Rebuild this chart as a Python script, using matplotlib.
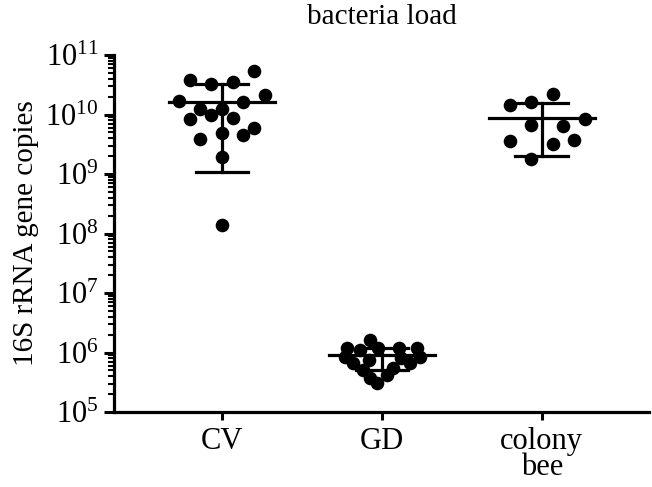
import matplotlib
matplotlib.use("Agg")
import matplotlib.pyplot as plt
import matplotlib.ticker as mticker

plt.rcParams["font.family"] = ["Liberation Serif", "DejaVu Serif"]
plt.rcParams["mathtext.fontset"] = "stix"

GROUPS = ["CV", "GD", "colony\nbee"]
Y_DECADES = [5, 6, 7, 8, 9, 10, 11]

cv_values = [5.4e10, 3.8e10, 3.2e10, 3.5e10, 2.1e10, 1.66e10, 1.6e10, 1.23e10, 1.26e10,
             9.8e9, 8.3e9, 8.7e9, 6.0e9, 4.6e9, 4.8e9, 3.9e9, 1.95e9, 1.38e8]
cv_jitter = [0.20, -0.20, -0.07, 0.07, 0.27, -0.27, 0.13, -0.14, 0.0,
             -0.07, -0.20, 0.07, 0.20, 0.13, 0.0, -0.14, 0.0, 0.0]

gd_values = [1.62e6, 1.2e6, 1.1e6, 1.17e6, 1.2e6, 1.17e6, 8.5e5, 8.5e5, 6.6e5,
             6.6e5, 5.1e5, 5.5e5, 3.7e5, 4.2e5, 3.1e5, 8.0e5, 7.5e5]
gd_jitter = [-0.075, -0.22, -0.14, -0.025, 0.11, 0.22, -0.23, 0.24, -0.18,
             0.175, -0.12, 0.07, -0.075, 0.03, -0.03, 0.12, -0.08]

bee_values = [2.2e10, 1.45e10, 1.6e10, 8.3e9, 6.6e9, 6.3e9, 3.6e9, 3.7e9, 3.2e9, 1.8e9]
bee_jitter = [0.07, -0.20, -0.07, 0.27, -0.07, 0.13, -0.20, 0.20, 0.07, -0.07]

# mean and error bar ends
means = [1.6e10, 9.0e5, 8.7e9]
err_low = [1.07e9, 5.1e5, 2.0e9]
err_high = [3.2e10, 1.2e6, 1.55e10]


def main() -> None:
    fig = plt.figure(figsize=(6.52, 4.87), dpi=100)
    ax = fig.add_axes([114 / 652, 75 / 487, 535 / 652, 357 / 487])

    series = [(cv_values, cv_jitter), (gd_values, gd_jitter), (bee_values, bee_jitter)]
    for i, (vals, jit) in enumerate(series):
        x0 = i + 1
        ax.plot([x0 + j for j in jit], vals, "o", color="black", markersize=9.8,
                markeredgewidth=0, zorder=3, clip_on=False)
        ax.plot([x0 - 0.33, x0 + 0.33], [means[i]] * 2, color="black", lw=2.3, zorder=2)
        ax.plot([x0, x0], [err_low[i], err_high[i]], color="black", lw=2.3, zorder=2)
        for e in (err_low[i], err_high[i]):
            ax.plot([x0 - 0.165, x0 + 0.165], [e, e], color="black", lw=2.3, zorder=2)

    ax.set_yscale("log")
    ax.set_ylim(10.0 ** Y_DECADES[0], 10.0 ** Y_DECADES[-1])
    ax.set_xlim(0.325, 3.67)
    ax.set_yticks([10.0 ** d for d in Y_DECADES])
    ax.yaxis.set_major_formatter(mticker.LogFormatterMathtext())
    ax.yaxis.set_minor_locator(mticker.LogLocator(base=10, subs=range(2, 10), numticks=20))
    ax.yaxis.set_minor_formatter(mticker.NullFormatter())

    ax.set_xticks([1, 2, 3])
    ax.set_xticklabels(GROUPS, fontsize=22, linespacing=0.85)
    ax.tick_params(axis="y", which="major", length=7, width=2.2, labelsize=22, pad=4)
    ax.tick_params(axis="y", which="minor", length=4, width=1.5)
    ax.tick_params(axis="x", length=6, width=2.2, pad=5)

    ax.spines[["top", "right"]].set_visible(False)
    for side in ("left", "bottom"):
        ax.spines[side].set_linewidth(2.3)

    ax.set_ylabel("16S rRNA gene copies", fontsize=21)
    ax.yaxis.set_label_coords(-0.14, 0.5)
    ax.set_title("bacteria load", fontsize=21, pad=22)

    fig.savefig("out.png", dpi=100)
    plt.close(fig)


if __name__ == "__main__":
    main()
